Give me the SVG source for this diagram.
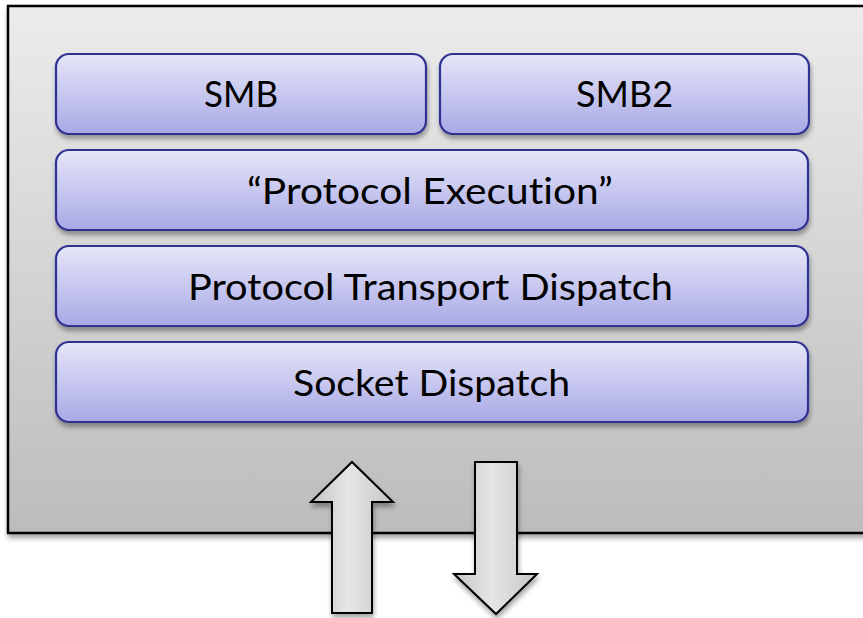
<svg xmlns="http://www.w3.org/2000/svg" width="863" height="618" viewBox="0 0 863 618">
<defs>
<linearGradient id="gOuter" x1="0" y1="0" x2="0" y2="1">
<stop offset="0" stop-color="#ececec"/>
<stop offset="1" stop-color="#bcbcbc"/>
</linearGradient>
<linearGradient id="gBox" x1="0" y1="0" x2="0" y2="1">
<stop offset="0" stop-color="#e7e7f8"/>
<stop offset="1" stop-color="#a8a8e6"/>
</linearGradient>
<linearGradient id="gArrow" x1="0" y1="0" x2="1" y2="0">
<stop offset="0" stop-color="#c4c4c4"/>
<stop offset="0.45" stop-color="#e6e6e6"/>
<stop offset="1" stop-color="#c6c6c6"/>
</linearGradient>
<filter id="shadow" x="-5%" y="-5%" width="115%" height="125%">
<feDropShadow dx="1" dy="4" stdDeviation="2.5" flood-color="#000" flood-opacity="0.35"/>
</filter>
</defs>
<style>
.box{fill:url(#gBox);stroke:#2e3192;stroke-width:2.2;filter:url(#shadow)}
.lbl{font-family:Lato,"Liberation Sans",sans-serif;font-size:36px;fill:#000;text-anchor:middle;font-variant-ligatures:none;font-feature-settings:"liga" 0}
.arrow{fill:url(#gArrow);stroke:#000;stroke-width:2;stroke-linejoin:miter;filter:url(#shadow)}
</style>
<rect width="863" height="618" fill="#ffffff"/>
<g id="container">
<rect x="8" y="6" width="870" height="527" fill="url(#gOuter)" stroke="#000" stroke-width="2.5" filter="url(#shadow)"/>
</g>
<g id="smb">
<rect class="box" x="56" y="54" width="370" height="80" rx="13"/>
<text class="lbl" x="241" y="107" textLength="74" lengthAdjust="spacingAndGlyphs">SMB</text>
</g>
<g id="smb2">
<rect class="box" x="440" y="54" width="369" height="80" rx="13"/>
<text class="lbl" x="624.5" y="107" textLength="97" lengthAdjust="spacingAndGlyphs">SMB2</text>
</g>
<g id="protocol-execution">
<rect class="box" x="56" y="150" width="752" height="80" rx="13"/>
<text class="lbl" x="430" y="204" textLength="366" lengthAdjust="spacingAndGlyphs">“Protocol Execution”</text>
</g>
<g id="protocol-transport-dispatch">
<rect class="box" x="56" y="246" width="752" height="80" rx="13"/>
<text class="lbl" x="430.5" y="300" textLength="485" lengthAdjust="spacingAndGlyphs">Protocol Transport Dispatch</text>
</g>
<g id="socket-dispatch">
<rect class="box" x="56" y="342" width="752" height="80" rx="13"/>
<text class="lbl" x="431.5" y="396" textLength="277" lengthAdjust="spacingAndGlyphs">Socket Dispatch</text>
</g>
<g id="connectors">
<polygon class="arrow" points="352,462 393,502 372,502 372,613 332,613 332,502 311,502"/>
<polygon class="arrow" points="475,462 517,462 517,574 537,574 496,614 454,574 475,574"/>
</g>
</svg>
